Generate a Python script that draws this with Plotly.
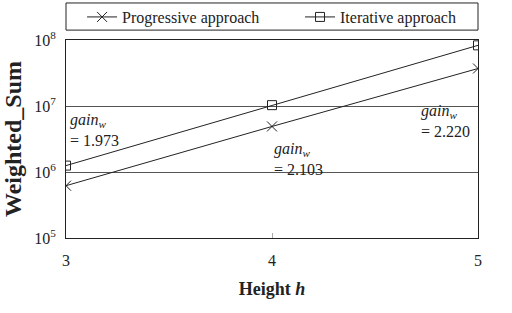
import plotly.graph_objects as go

heights = [3, 4, 5]
progressive = [6.2e5, 4.9e6, 3.7e7]
iterative = [1.25e6, 1.03e7, 8.3e7]
gain_labels = ["1.973", "2.103", "2.220"]

# annotation anchor positions (x in data units, y in log10 units)
gain_pos_x = [3.0, 3.99, 4.705]
gain_pos_y = [6.63, 6.2, 6.77]

ytick_vals = [1e5, 1e6, 1e7, 1e8]
ytick_text = ["10<sup>5</sup>", "10<sup>6</sup>", "10<sup>7</sup>", "10<sup>8</sup>"]

FONT = "Liberation Serif, Times New Roman, serif"
INK = "#222222"

fig = go.Figure()
fig.add_trace(go.Scatter(
    x=heights, y=progressive, name="Progressive approach", mode="lines+markers",
    line=dict(color=INK, width=1), legend="legend",
    marker=dict(symbol="x-thin-open", size=10, line=dict(color=INK, width=1), color=INK),
))
fig.add_trace(go.Scatter(
    x=heights, y=iterative, name="Iterative approach", mode="lines+markers",
    line=dict(color=INK, width=1), legend="legend2",
    marker=dict(symbol="square-open", size=9, line=dict(color=INK, width=1), color=INK),
))

for gx, gy, g in zip(gain_pos_x, gain_pos_y, gain_labels):
    fig.add_annotation(
        x=gx, y=gy, yref="y", xref="x",
        text=f"<i>gain<sub>w</sub></i><br>= {g}", showarrow=False,
        xanchor="left", yanchor="middle", align="left", xshift=2,
        font=dict(family=FONT, size=16, color=INK),
    )

fig.add_shape(type="rect", xref="paper", yref="paper", x0=0, x1=1, y0=1.05, y1=1.187,
              line=dict(color=INK, width=1), fillcolor="rgba(0,0,0,0)")

leg_common = dict(orientation="h", yanchor="middle", y=1.116, xanchor="left",
                  bgcolor="rgba(0,0,0,0)", font=dict(family=FONT, size=16, color=INK),
                  itemwidth=30)

fig.update_layout(
    width=512, height=313,
    margin=dict(l=66, r=34, t=40, b=75, autoexpand=False),
    paper_bgcolor="white", plot_bgcolor="white",
    font=dict(family=FONT, size=15, color=INK),
    showlegend=True,
    legend=dict(x=0.039, **leg_common),
    legend2=dict(x=0.568, **leg_common),
    xaxis=dict(range=[3, 5], tickvals=heights, ticktext=[str(h) for h in heights],
               showgrid=False, zeroline=False, showline=True, linecolor=INK, mirror=True,
               ticks="inside", ticklen=5, tickcolor="#aaaaaa", ticklabelstandoff=8,
               automargin=False,
               title=dict(text="<b>Height <i>h</i></b>", font=dict(family=FONT, size=18), standoff=14),
               tickfont=dict(family=FONT, size=16)),
    yaxis=dict(type="log", range=[5, 8], tickvals=ytick_vals, ticktext=ytick_text,
               showgrid=True, gridcolor="#555555", gridwidth=1, zeroline=False,
               showline=True, linecolor=INK, mirror=True, ticks="", ticklabelstandoff=6,
               automargin=False,
               title=dict(text="<b>Weighted_Sum</b>", font=dict(family=FONT, size=24), standoff=8),
               tickfont=dict(family=FONT, size=16)),
)

fig.write_html("out.html", config={"displayModeBar": False},
               post_script="document.body.style.margin='0px';")
